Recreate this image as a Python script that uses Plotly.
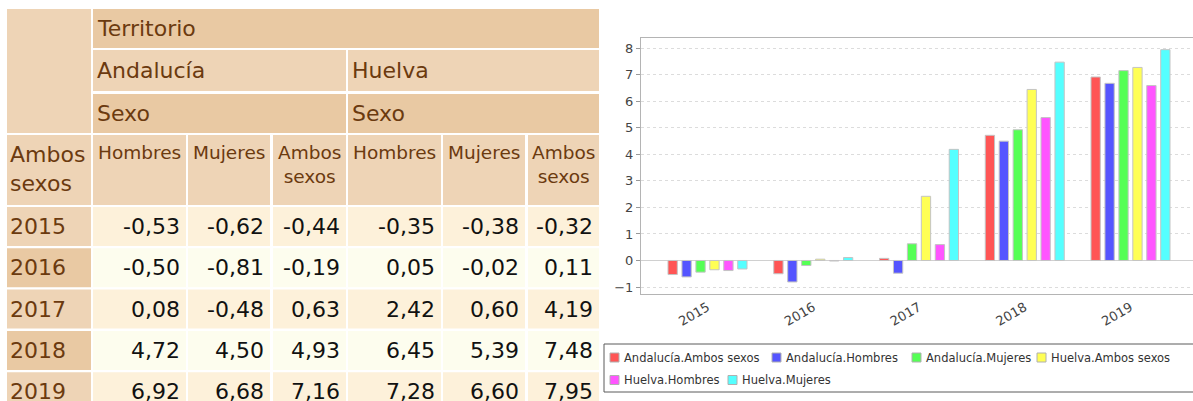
import plotly.graph_objects as go

# datos (variación, %)
years = ["2015", "2016", "2017", "2018", "2019"]

andalucia_ambos = [-0.53, -0.50, 0.08, 4.72, 6.92]
andalucia_hombres = [-0.62, -0.81, -0.48, 4.50, 6.68]
andalucia_mujeres = [-0.44, -0.19, 0.63, 4.93, 7.16]
huelva_ambos = [-0.35, 0.05, 2.42, 6.45, 7.28]
huelva_hombres = [-0.38, -0.02, 0.60, 5.39, 6.60]
huelva_mujeres = [-0.32, 0.11, 4.19, 7.48, 7.95]

series = [andalucia_ambos, andalucia_hombres, andalucia_mujeres,
          huelva_ambos, huelva_hombres, huelva_mujeres]
series_names = ["Andalucía.Ambos sexos", "Andalucía.Hombres", "Andalucía.Mujeres",
                "Huelva.Ambos sexos", "Huelva.Hombres", "Huelva.Mujeres"]
series_colors = ["#ff5555", "#5555ff", "#55ff55", "#ffff55", "#ff55ff", "#55ffff"]

territorios = ["Andalucía", "Huelva"]
sexo_headers = ["Hombres", "Mujeres", "Ambos<br>sexos"]
row_header = "Ambos<br>sexos"

# --- estilo / maquetación ---
W, H = 1193, 401
FONT = "DejaVu Sans"
tan_dark = "#e9c9a3"
tan_light = "#eed4b6"
cream = "#fdf1da"
pale = "#fdfdee"
brown = "#6b3a0f"

col_x = [(7, 91), (93, 186), (188, 270), (273, 346), (348, 441), (443, 525), (528, 599)]
head_y = [(9, 48), (50, 91), (94, 133), (135, 205)]
row_top, row_h, row_step = 207, 39, 41.3

legend_box = (604, 344, 1205, 392)
legend_slots = [(610, 357.5), (772, 357.5), (912, 357.5), (1037, 357.5), (610, 380), (728, 380)]

fig = go.Figure()

for name, vals, color in zip(series_names, series, series_colors):
    fig.add_trace(go.Bar(x=years, y=vals, name=name, showlegend=False,
                         marker=dict(color=color, line=dict(color="#c4c4c4", width=1))))

shapes = []
annotations = []


def cell(x0, x1, y0, y1, fill):
    shapes.append(dict(type="rect", xref="x2", yref="y2", x0=x0, x1=x1, y0=y0, y1=y1,
                       fillcolor=fill, line=dict(width=0), layer="above"))


def text(t, x, y, xanchor, yanchor="middle", size=22, color=brown, align="left"):
    annotations.append(dict(text=t, x=x, y=y, xref="x2", yref="y2", xanchor=xanchor,
                            yanchor=yanchor, showarrow=False, align=align,
                            font=dict(family=FONT, size=size, color=color)))


# cabecera
cell(col_x[0][0], col_x[0][1], head_y[0][0], head_y[2][1], tan_light)
cell(col_x[1][0], col_x[6][1], head_y[0][0], head_y[0][1], tan_dark)
text("Territorio", col_x[1][0] + 2, sum(head_y[0]) / 2, "left")
for i, terr in enumerate(territorios):
    x0, x1 = col_x[1 + 3 * i][0], col_x[3 + 3 * i][1]
    cell(x0, x1, head_y[1][0], head_y[1][1], tan_light)
    text(terr, x0 + 2, sum(head_y[1]) / 2, "left")
    cell(x0, x1, head_y[2][0], head_y[2][1], tan_dark)
    text("Sexo", x0 + 2, sum(head_y[2]) / 2, "left")

cell(col_x[0][0], col_x[0][1], head_y[3][0], head_y[3][1], tan_light)
text(row_header, col_x[0][0] + 1, head_y[3][0] + 5, "left", "top", size=22)
for j in range(6):
    x0, x1 = col_x[1 + j]
    cell(x0, x1, head_y[3][0], head_y[3][1], tan_light)
    text(sexo_headers[j % 3], (x0 + x1) / 2, head_y[3][0] + 5, "center", "top",
         size=18.5, align="center")

# cuerpo
for r, year in enumerate(years):
    y0 = row_top + r * row_step
    y1 = y0 + row_h
    yc = (y0 + y1) / 2
    cell(col_x[0][0], col_x[0][1], y0, y1, tan_light if r % 2 == 0 else tan_dark)
    text(year, col_x[0][0] + 1, yc, "left")
    for j, vals in enumerate(series):
        x0, x1 = col_x[1 + j]
        cell(x0, x1, y0, y1, cream if r % 2 == 0 else pale)
        text(f"{vals[r]:.2f}".replace(".", ","), x1 - 4, yc, "right", color="#111111")

# leyenda del gráfico
shapes.append(dict(type="rect", xref="x2", yref="y2", x0=legend_box[0], y0=legend_box[1],
                   x1=legend_box[2], y1=legend_box[3], line=dict(color="#5a5a5a", width=1),
                   fillcolor="rgba(0,0,0,0)", layer="above"))
for (sx, sy), name, color in zip(legend_slots, series_names, series_colors):
    shapes.append(dict(type="rect", xref="x2", yref="y2", x0=sx, x1=sx + 9,
                       y0=sy - 4.5, y1=sy + 4.5, fillcolor=color,
                       line=dict(color="#b0b0b0", width=1), layer="above"))
    text(name, sx + 12, sy, "left", size=11.5, color="#333333")

fig.update_layout(
    width=W, height=H,
    margin=dict(l=0, r=0, t=0, b=0),
    paper_bgcolor="white", plot_bgcolor="rgba(0,0,0,0)",
    barmode="group", bargap=0.209, bargroupgap=0.333,
    shapes=shapes, annotations=annotations,
    font=dict(family=FONT),
    xaxis=dict(domain=[641 / W, 1], type="category", range=[-0.629, 4.591],
               showline=True, linecolor="#b4b4b4", mirror=True, showgrid=False,
               ticks="", tickangle=-30, tickfont=dict(size=13, color="#444444")),
    yaxis=dict(domain=[(H - 294) / H, (H - 38) / H], range=[-1.264, 8.39], dtick=1,
               showgrid=True, gridcolor="#dcdcdc", griddash="dot",
               zeroline=True, zerolinecolor="#d0d0d0", zerolinewidth=1,
               showline=True, linecolor="#b4b4b4",
               ticks="outside", ticklen=4, tickcolor="#999999",
               tickfont=dict(size=13, color="#444444")),
    xaxis2=dict(domain=[0, 1], range=[0, W], visible=False, anchor="y2", fixedrange=True),
    yaxis2=dict(domain=[0, 1], range=[H, 0], visible=False, anchor="x2", fixedrange=True),
)

# la página trae margen de 8px en <body>; lo quitamos para que cuadre con la ventana
fig.write_html("out.html", config={"displayModeBar": False},
               post_script="document.body.style.margin='0';")
